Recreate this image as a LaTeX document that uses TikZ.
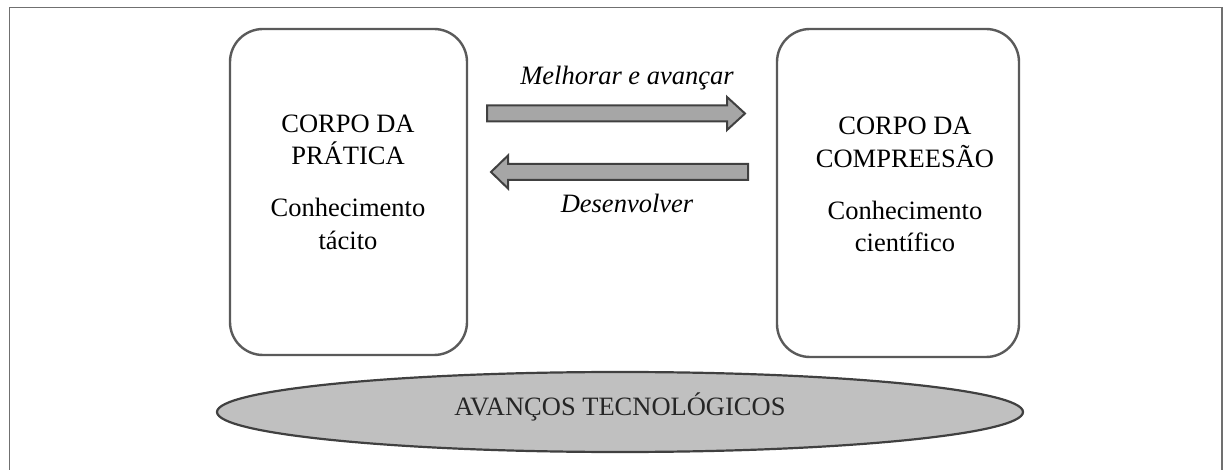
\documentclass[tikz,border=0pt]{standalone}
\usepackage{fontspec}
\setmainfont{Liberation Serif}
\usetikzlibrary{shapes.geometric}
\definecolor{boxline}{HTML}{5A5A5A}
\definecolor{darkline}{HTML}{404040}
\definecolor{arrowfill}{HTML}{A6A6A6}
\definecolor{ellfill}{HTML}{C0C0C0}
\definecolor{frameline}{HTML}{707070}
\tikzset{
  bigbox/.style={draw=boxline, line width=2.4pt, rounded corners=33pt, fill=white},
  boxtext/.style={font=\fontsize{26.5}{32}\selectfont, align=center, inner sep=0pt, anchor=base},
  labeltext/.style={font=\fontsize{26.5}{32}\selectfont\itshape, inner sep=0pt, anchor=base},
  blockarrow/.style={draw=darkline, line width=2pt, fill=arrowfill, line join=miter},
  base/.style={ellipse, draw=darkline, line width=2.2pt, fill=ellfill, minimum width=806pt, minimum height=80pt, inner sep=0pt}
}
\begin{document}
\begin{tikzpicture}[x=1pt, y=-1pt]
\useasboundingbox (0,0) rectangle (1224,470);
% outer frame
\draw[frameline, line width=1.2pt] (9.5,490) -- (9.5,7.5) -- (1222,7.5) -- (1222,490);
% boxes
\draw[bigbox] (230,29) rectangle (467,355);
\draw[bigbox] (777,29) rectangle (1019,357);
\node[boxtext] (p1) at (348,133) {CORPO DA};
\node[boxtext] (p2) at (348,165) {PRÁTICA};
\node[boxtext] (p3) at (348,217) {Conhecimento};
\node[boxtext] (p4) at (348,250) {tácito};
\node[boxtext] (c1) at (905,135) {CORPO DA};
\node[boxtext] (c2) at (905,168) {COMPREESÃO};
\node[boxtext] (c3) at (905,220) {Conhecimento};
\node[boxtext] (c4) at (905,252) {científico};
% arrows
\draw[blockarrow] (487,105.5) -- (727,105.5) -- (727,97) -- (745,113.5) -- (727,130) -- (727,121.5) -- (487,121.5) -- cycle;
\draw[blockarrow] (748,164) -- (508,164) -- (508,155.5) -- (491,172) -- (508,188.5) -- (508,180) -- (748,180) -- cycle;
\node[labeltext] (l1) at (627,85) {Melhorar e avançar};
\node[labeltext] (l2) at (627,213) {Desenvolver};
% ellipse
\node[base] (tec) at (620,412) {};
\node[font=\fontsize{26.5}{32}\selectfont, text={rgb,255:red,38;green,38;blue,38}, inner sep=0pt, anchor=base] (tt) at (620,415) {AVANÇOS TECNOLÓGICOS};
\end{tikzpicture}
\end{document}
